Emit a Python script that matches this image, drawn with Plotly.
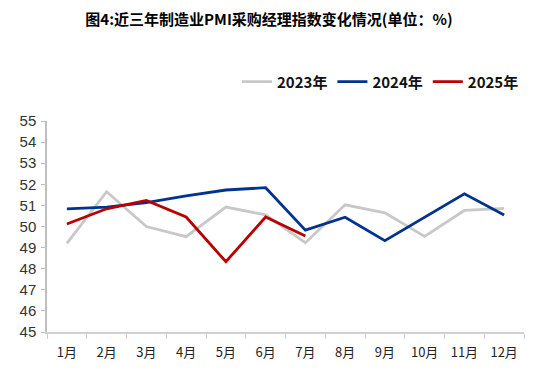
import plotly.graph_objects as go

months = ["1月", "2月", "3月", "4月", "5月", "6月", "7月", "8月", "9月", "10月", "11月", "12月"]
pmi_2023 = [49.2, 51.65, 50.0, 49.52, 50.92, 50.55, 49.23, 51.03, 50.65, 49.53, 50.76, 50.86]
pmi_2024 = [50.84, 50.92, 51.13, 51.45, 51.73, 51.84, 49.83, 50.44, 49.33, 50.42, 51.55, 50.55]
pmi_2025 = [50.12, 50.84, 51.24, 50.45, 48.33, 50.45, 49.55]

series = [
    ("2023年", pmi_2023, "#c8c8c8"),
    ("2024年", pmi_2024, "#00338d"),
    ("2025年", pmi_2025, "#b80000"),
]

fig = go.Figure()
for name, vals, color in series:
    fig.add_trace(go.Scatter(
        x=months[:len(vals)], y=vals, name="<b>" + name + "</b>", mode="lines",
        line=dict(color=color, width=2.8),
    ))

# page body has an 8px margin, so the figure is sized/positioned to compensate
W, H = 542, 372
fig.update_layout(
    width=W, height=H,
    margin=dict(l=34, r=26, t=113, b=48),
    paper_bgcolor="white", plot_bgcolor="white",
    font=dict(family="Liberation Sans, Arial, sans-serif", color="#222"),
    title=dict(
        text="<b>图4:近三年制造业PMI采购经理指数变化情况(单位：%)</b>",
        x=261 / W, xanchor="center", y=1 - 12 / H, yanchor="middle",
        yref="container", xref="container",
        font=dict(family="Noto Sans CJK SC", size=15, color="#000"),
    ),
    legend=dict(
        orientation="h", x=1.0, xanchor="right", y=1.185, yanchor="middle",
        font=dict(family="Noto Sans CJK SC", size=15, color="#111"),
        itemwidth=30, tracegroupgap=0, bgcolor="rgba(0,0,0,0)",
    ),
    showlegend=True,
)

fig.update_xaxes(
    type="category", categoryorder="array", categoryarray=months,
    range=[-0.5, 11.5],
    tickson="boundaries", ticks="outside", ticklen=5, tickcolor="#d0d0d0",
    showline=True, linecolor="#d0d0d0", linewidth=1.5, showgrid=False,
    tickfont=dict(family="Noto Sans CJK SC", size=13, color="#222"),
    ticklabelstandoff=8,
)
fig.update_yaxes(
    range=[45, 55], dtick=1, ticks="outside", ticklen=4, tickcolor="#bfbfbf",
    showline=True, linecolor="#bfbfbf", linewidth=1.5, showgrid=False, zeroline=False,
    tickfont=dict(family="Liberation Sans, Arial", size=15, color="#333"),
    ticklabelstandoff=2,
)

fig.write_html("out.html")
